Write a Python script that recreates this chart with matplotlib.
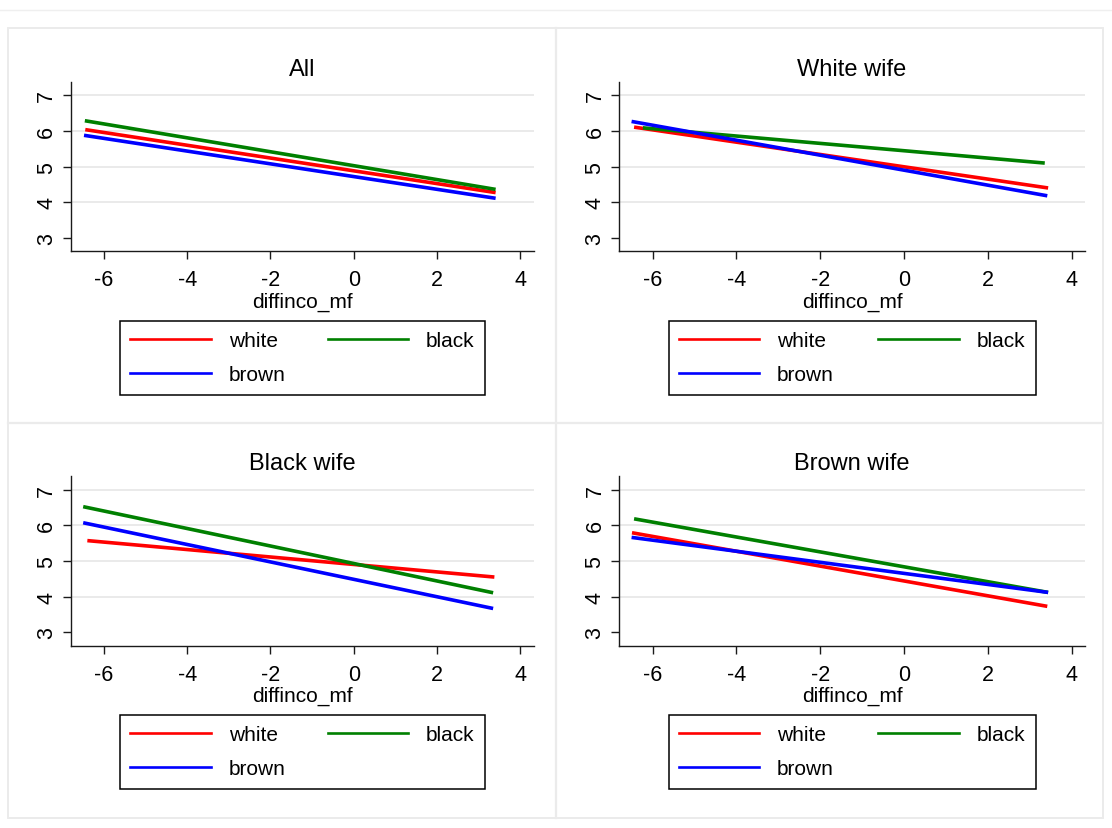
import matplotlib
matplotlib.use("Agg")
import matplotlib.pyplot as plt
from matplotlib.lines import Line2D
from matplotlib.patches import Rectangle

plt.rcParams['font.family'] = ['Liberation Sans', 'DejaVu Sans']
plt.rcParams['axes.unicode_minus'] = False

# ---- data -------------------------------------------------------------
panel_titles = ["All", "White wife", "Black wife", "Brown wife"]
groups = ["white", "black", "brown"]
group_colors = ["#ff0000", "#008000", "#0000ff"]

# linear-fit endpoints per panel, one entry per group (white, black, brown)
x_start = [[-6.45, -6.46, -6.48],
           [-6.44, -6.23, -6.50],
           [-6.40, -6.50, -6.50],
           [-6.49, -6.44, -6.50]]
x_end = [[3.41, 3.41, 3.41],
         [3.44, 3.36, 3.42],
         [3.38, 3.35, 3.35],
         [3.42, 3.44, 3.44]]
y_start = [[6.04, 6.29, 5.88],
           [6.11, 6.09, 6.27],
           [5.57, 6.52, 6.07],
           [5.79, 6.18, 5.66]]
y_end = [[4.27, 4.36, 4.11],
         [4.40, 5.10, 4.18],
         [4.55, 4.11, 3.67],
         [3.73, 4.12, 4.12]]

x_ticks = [-6, -4, -2, 0, 2, 4]
y_ticks = [3, 4, 5, 6, 7]
grid_levels = [4, 5, 6, 7]
x_label = "diffinco_mf"

# ---- layout (pixels) --------------------------------------------------
W, H = 1112, 829
fig = plt.figure(figsize=(W / 100, H / 100), dpi=100)
fig.patch.set_facecolor("white")

def fx(px):
    return px / W

def fy(py):
    return 1 - py / H

# axes boxes: left, top, right, bottom
axes_px = [(70.7, 83.3, 533.5, 252.3),
           (619.0, 83.3, 1085.0, 252.3),
           (70.7, 477.3, 533.5, 647.0),
           (619.0, 477.3, 1085.0, 647.0)]
# legend boxes: left, top, right
legend_px = [(120.0, 322.0, 485.0),
             (668.5, 322.0, 1035.6),
             (120.0, 716.0, 485.0),
             (668.5, 716.0, 1035.6)]

# light panel frames
frame_col = "#ebebeb"
fig.add_artist(Line2D([0, 1], [fy(10.5), fy(10.5)], color="#efefef", lw=1.0,
                      transform=fig.transFigure))
fig.add_artist(Rectangle((fx(8), fy(819)), fx(1103) - fx(8), fy(29) - fy(819),
                         transform=fig.transFigure, fill=False,
                         edgecolor=frame_col, lw=1.4))
fig.add_artist(Line2D([fx(556), fx(556)], [fy(29), fy(819)], color=frame_col,
                      lw=1.6, transform=fig.transFigure))
fig.add_artist(Line2D([fx(8), fx(1103)], [fy(424), fy(424)], color=frame_col,
                      lw=1.6, transform=fig.transFigure))

legend_order = [0, 2, 1]  # column-major fill -> rows: white/black, brown

for i, title in enumerate(panel_titles):
    l, t, r, b = axes_px[i]
    ax = fig.add_axes([fx(l), fy(b), fx(r) - fx(l), fy(t) - fy(b)])
    ax.set_xlim(-6.8, 4.32)
    ax.set_ylim(2.62, 7.37)

    for lev in grid_levels:
        ax.axhline(lev, color="#e8e8e8", lw=1.3, zorder=0)

    for g, (name, col) in enumerate(zip(groups, group_colors)):
        ax.plot([x_start[i][g], x_end[i][g]], [y_start[i][g], y_end[i][g]],
                color=col, lw=2.6, solid_capstyle="butt", zorder=2 + g)

    ax.set_xticks(x_ticks)
    ax.set_yticks(y_ticks)
    ax.set_xticklabels([str(v) for v in x_ticks])
    ax.set_yticklabels([str(v) for v in y_ticks])
    for s in ["top", "right"]:
        ax.spines[s].set_visible(False)
    for s in ["left", "bottom"]:
        ax.spines[s].set_color("#1a1a1a")
        ax.spines[s].set_linewidth(1.0)
    ax.tick_params(axis="both", direction="out", length=5.8, width=1.0,
                   color="#1a1a1a", labelsize=15.5, labelcolor="black")
    ax.tick_params(axis="x", pad=7.0)
    ax.tick_params(axis="y", pad=4.0, labelrotation=90)
    for lab in ax.get_yticklabels():
        lab.set_va("center")
        lab.set_ha("right")

    ax.set_title(title, fontsize=17, pad=5)
    ax.set_xlabel(x_label, fontsize=15, labelpad=1.0)

    handles = [Line2D([], [], color=group_colors[k], lw=1.9) for k in legend_order]
    labels = [groups[k] for k in legend_order]
    ll, lt, lr = legend_px[i]
    leg = ax.legend(handles, labels, ncol=2, loc="upper left",
                    bbox_to_anchor=(fx(ll), fy(lt) - 0.01, fx(lr) - fx(ll), 0.01),
                    bbox_transform=fig.transFigure, mode="expand",
                    borderaxespad=0, fontsize=15, handlelength=3.85,
                    handletextpad=0.86, borderpad=0.5, labelspacing=0.72,
                    fancybox=False, framealpha=1, edgecolor="black")
    leg.get_frame().set_linewidth(1.1)

fig.savefig("out.png", dpi=100)
